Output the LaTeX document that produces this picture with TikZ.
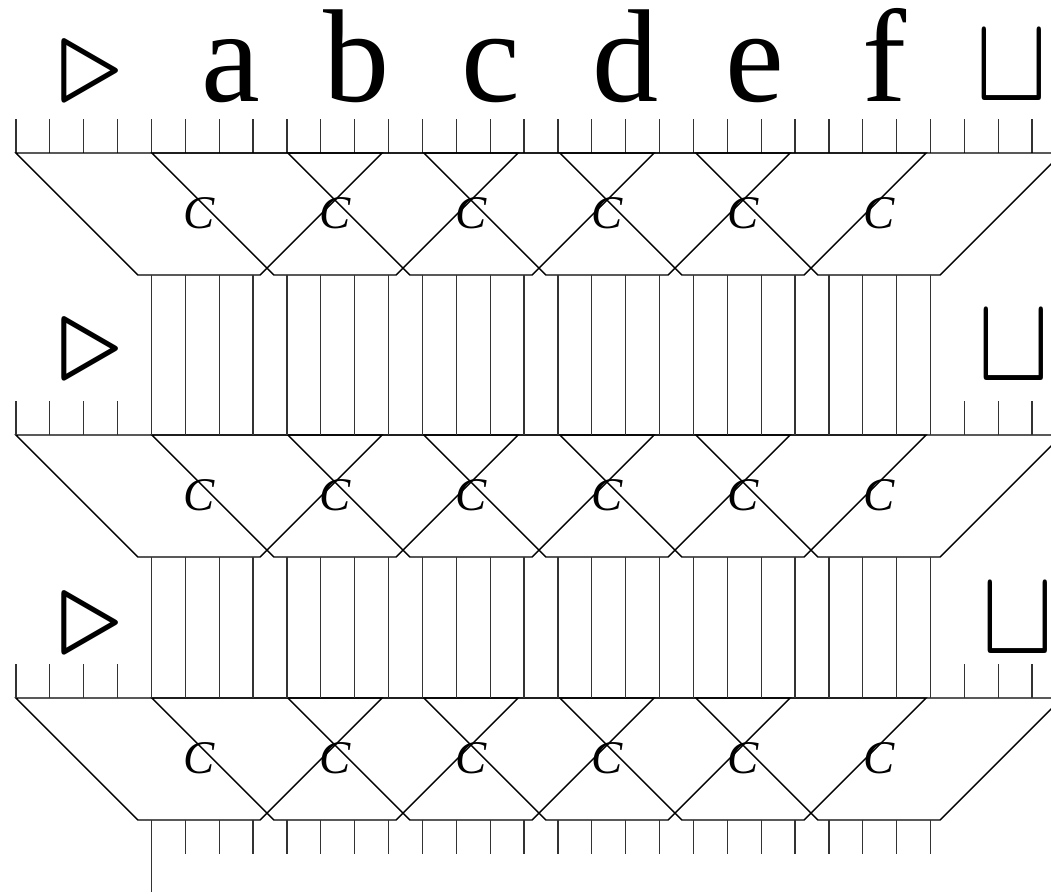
\documentclass[tikz,border=0pt]{standalone}
\usepackage{fontspec}
\setmainfont{Liberation Serif}
\tikzset{
  blockline/.style={line width=0.4pt,line join=miter},
  tapetick/.style={line width=0.35pt,black!80},
  cellsym/.style={font=\fontsize{37.6}{40}\selectfont,inner sep=0pt,anchor=base},
  cname/.style={font=\fontsize{13.3}{15}\selectfont\itshape,inner sep=0pt},
  leftend/.style={inner sep=0pt,scale=3.6},
  blanksym/.style={inner sep=0pt,anchor=base,xscale=3.1,yscale=3.5},
}

\begin{document}
\begin{tikzpicture}[x=0.01cm,y=-0.01cm]
  \useasboundingbox (0,0) rectangle (1051,893);
  \clip (0,0) rectangle (1051,893);
  % first tape: symbols and cell ticks
  \node[leftend] (lend1) at (90.5,73.5) {$\triangleright$};
  \foreach \x/\s in {231/a,357/b,491/c,626/d,755/e,885/f}
    \node[cellsym] (sym-\s) at (\x,101) {\s};
  \node[blanksym] (blank1) at (1012,100) {$\sqcup$};
  \foreach \i in {0,...,30}
    \draw[tapetick] (16+33.87*\i,119) -- (16+33.87*\i,153);
  % rows of C windows
  \foreach \t/\r in {153/1,435/2,698/3}{
    \foreach \k in {0,...,5}{
      \pgfmathsetmacro{\bl}{138+136*\k}
      \draw[blockline] (\bl-122,\t) -- (\bl,\t+122) -- (\bl+122,\t+122) -- (\bl+244,\t) -- cycle;
      \node[cname] (C\r\k) at (\bl+61,\t+60) {C};
    }
  }
  % cells between the rows
  \foreach \i in {4,...,27}{
    \draw[tapetick] (16+33.87*\i,275) -- (16+33.87*\i,435);
    \draw[tapetick] (16+33.87*\i,557) -- (16+33.87*\i,698);
    \draw[tapetick] (16+33.87*\i,820) -- (16+33.87*\i,854);
  }
  \foreach \i in {0,1,2,3,28,29,30}{
    \draw[tapetick] (16+33.87*\i,401) -- (16+33.87*\i,435);
    \draw[tapetick] (16+33.87*\i,664) -- (16+33.87*\i,698);
  }
  \draw[tapetick] (151.5,854) -- (151.5,892);
  % end markers of the lower tapes
  \node[leftend] (lend2) at (90.5,351.5) {$\triangleright$};
  \node[leftend] (lend3) at (90.5,625) {$\triangleright$};
  \node[blanksym] (blank2) at (1013.5,380) {$\sqcup$};
  \node[blanksym] (blank3) at (1017.5,653) {$\sqcup$};
\end{tikzpicture}
\end{document}
